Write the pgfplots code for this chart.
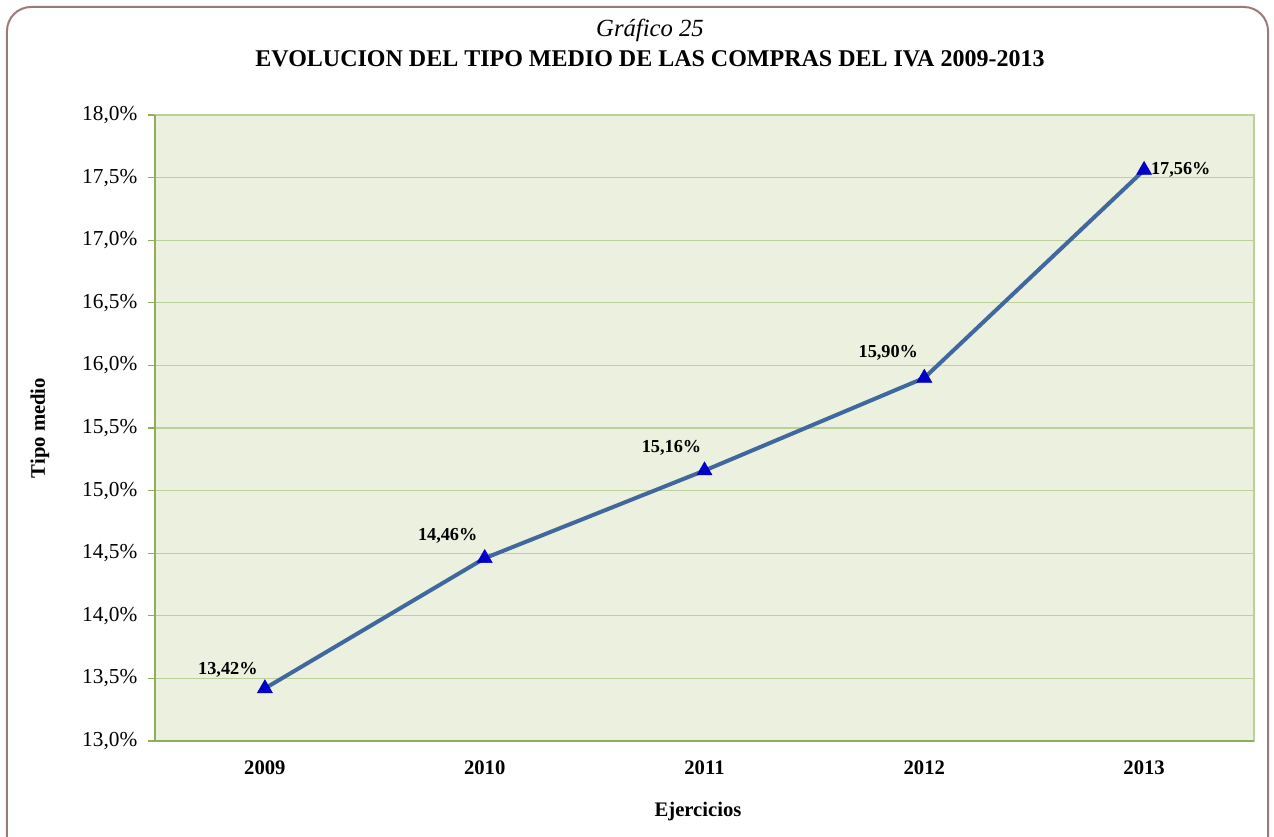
\documentclass[border=0pt]{standalone}
\usepackage{pgfplots}
\pgfplotsset{compat=1.18}
\usepackage{fontspec}
\setmainfont{Liberation Serif}
\definecolor{bggreen}{HTML}{EBF0DF}
\definecolor{gridgreen}{HTML}{BCD19A}
\definecolor{axisgreen}{HTML}{8FAE5A}
\definecolor{linecol}{HTML}{41689E}
\definecolor{markcol}{HTML}{0000C8}
\definecolor{framecol}{HTML}{9C7A77}
\begin{document}
\begin{tikzpicture}
\useasboundingbox (-116.25pt,-71.25pt) rectangle (839.25pt,555.75pt);
\begin{scope}
\clip (-116.25pt,-71.25pt) rectangle (839.25pt,555.75pt);
\draw[framecol, line width=1.5pt, rounded corners=18pt] (-111pt,-90pt) rectangle (834.75pt,550.5pt);
\end{scope}
\node[font=\fontsize{18.5}{21}\selectfont\itshape] at (371.25pt,533.25pt) {Gráfico 25};
\node[font=\fontsize{18}{21}\selectfont\bfseries] at (371.25pt,511.5pt) {EVOLUCION DEL TIPO MEDIO DE LAS COMPRAS DEL IVA 2009-2013};
\node[font=\fontsize{15.5}{18}\selectfont\bfseries, rotate=90] at (-86.25pt,234.75pt) {Tipo medio};
\node[font=\fontsize{15.5}{18}\selectfont\bfseries] at (407.25pt,-53.25pt) {Ejercicios};
\begin{axis}[
  at={(0,0)}, anchor=south west, scale only axis,
  width=824.25pt, height=469.5pt,
  xmin=-0.5, xmax=4.5, ymin=13, ymax=18,
  axis background/.style={fill=bggreen},
  axis line style={draw=gridgreen, line width=0.8pt},
  ymajorgrids, grid style={draw=gridgreen, line width=0.8pt},
  xtick pos=bottom, ytick pos=left,
  xtick={0,1,2,3,4},
  xticklabels={2009,2010,2011,2012,2013},
  x tick style={draw=none},
  xticklabel style={font=\fontsize{15.5}{18}\selectfont\bfseries, yshift=-6pt},
  extra x ticks={-0.5,0.5,1.5,2.5,3.5,4.5},
  extra x tick labels={},
  extra x tick style={grid=none, tick style={draw=axisgreen, line width=0.8pt}, tick align=outside, major tick length=5.25pt},
  ytick={13,13.5,14,14.5,15,15.5,16,16.5,17,17.5,18},
  yticklabels={{13,0\%},{13,5\%},{14,0\%},{14,5\%},{15,0\%},{15,5\%},{16,0\%},{16,5\%},{17,0\%},{17,5\%},{18,0\%}},
  yticklabel style={font=\fontsize{16}{19}\selectfont, xshift=-4.5pt},
  y tick style={draw=axisgreen, line width=0.8pt},
  tick align=outside, major tick length=5.25pt,
  clip=false,
]
\draw[axisgreen, line width=1.2pt] (rel axis cs:0,1) -- (rel axis cs:0,0) -- (rel axis cs:1,0);
\addplot[linecol, line width=3pt, mark=triangle*, mark size=6.5pt,
  mark options={fill=markcol, draw=markcol, line width=0.4pt}]
  coordinates {(0,13.42) (1,14.46) (2,15.16) (3,15.90) (4,17.56)};
\begin{scope}[every node/.style={font=\fontsize{13.7}{16}\selectfont\bfseries}]
\node at (axis cs:0,13.42) [xshift=-27.75pt, yshift=14.25pt] {13,42\%};
\node at (axis cs:1,14.46) [xshift=-27.75pt, yshift=16.5pt] {14,46\%};
\node at (axis cs:2,15.16) [xshift=-24.75pt, yshift=17.25pt] {15,16\%};
\node at (axis cs:3,15.90) [xshift=-27pt, yshift=18.75pt] {15,90\%};
\node at (axis cs:4,17.56) [xshift=27.5pt, yshift=0pt] {17,56\%};
\end{scope}
\end{axis}
\end{tikzpicture}
\end{document}
